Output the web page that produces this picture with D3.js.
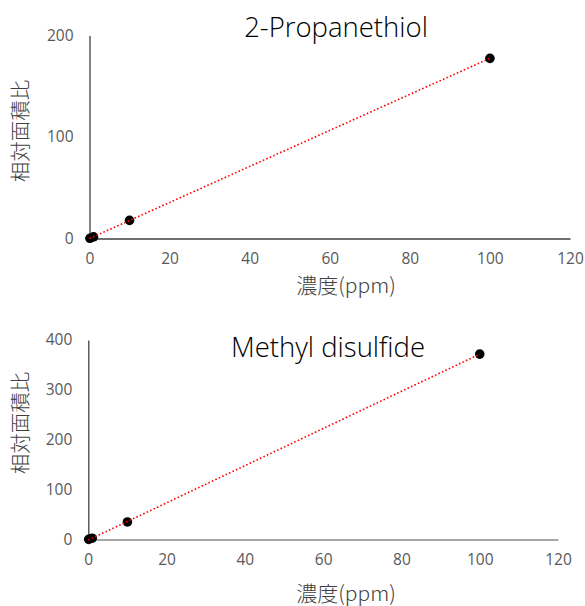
<!DOCTYPE html>
<html><head><meta charset="utf-8">
<script src="https://cdn.jsdelivr.net/npm/d3@7"></script>
<style>body{margin:0;background:#fff}</style>
</head><body>
<svg id="c" width="585" height="606"></svg>
<script>
const xTicks = [0, 20, 40, 60, 80, 100, 120];
const titles = ["2-Propanethiol", "Methyl disulfide"];
const xTitle = "濃度(ppm)";
const yTitle = "相対面積比";
const conc1 = [0.1, 1, 10, 100];
const area1 = [0.2, 1.6, 17.9, 177.5];
const yTicks1 = [0, 100, 200];
const conc2 = [0.1, 1, 10, 100];
const area2 = [0.3, 2.6, 35.2, 371.7];
const yTicks2 = [0, 100, 200, 300, 400];

const svg = d3.select("#c");
const FONT = "'Open Sans','Noto Sans CJK JP',sans-serif";
const CJK = "'Noto Sans CJK JP','Open Sans',sans-serif";

function fit(xs, ys){
  const n = xs.length, mx = d3.mean(xs), my = d3.mean(ys);
  let sxy=0, sxx=0;
  for(let i=0;i<n;i++){sxy+=(xs[i]-mx)*(ys[i]-my); sxx+=(xs[i]-mx)**2;}
  const b = sxy/sxx; return {b, a: my-b*mx};
}

function chart(cfg){
  const g = svg.append("g");
  const x = d3.scaleLinear().domain([0,120]).range(cfg.xr);
  const y = d3.scaleLinear().domain([0,cfg.ymax]).range(cfg.yr);
  const ya = g.append("g").attr("transform",`translate(${cfg.xr[0]},0)`)
    .call(d3.axisLeft(y).tickValues(cfg.yTicks).tickSize(0).tickPadding(16));
  ya.select(".domain").attr("stroke",cfg.yc).attr("stroke-width",1.3);
  ya.selectAll("text").attr("font-family",FONT).attr("font-size",15.5).attr("fill","#595959");
  const xa = g.append("g").attr("transform",`translate(0,${cfg.yr[0]})`)
    .call(d3.axisBottom(x).tickValues(xTicks).tickSize(0).tickPadding(14));
  xa.select(".domain").attr("stroke",cfg.xc).attr("stroke-width",1.3);
  xa.selectAll("text").attr("font-family",FONT).attr("font-size",15.5).attr("fill","#595959");
  const data = cfg.xs.map((v,i)=>({c:v,a:cfg.ys[i]}));
  g.selectAll("circle").data(data).enter().append("circle")
    .attr("cx",d=>x(d.c)).attr("cy",d=>y(d.a)).attr("r",4.8).attr("fill","#000");
  const f = fit(cfg.xs, cfg.ys);
  const ends = [0, d3.max(cfg.xs)];
  g.append("path").datum(ends)
    .attr("d", d3.line().x(d=>x(d)).y(d=>y(f.a+f.b*d)))
    .attr("stroke","#ff0000").attr("stroke-width",1.6).attr("stroke-dasharray","1.6,2.2").attr("fill","none");
  g.append("text").attr("x",cfg.tx).attr("y",cfg.ty).attr("text-anchor","middle")
    .attr("font-family",FONT).attr("font-weight",300).attr("font-size",27.5).attr("fill","#000").text(cfg.title);
  g.append("text").attr("x",346).attr("y",cfg.xty).attr("text-anchor","middle")
    .attr("font-family",CJK).attr("font-weight",300).attr("font-size",21).attr("fill","#404040").text(xTitle);
  g.append("text").attr("transform",`translate(28,${cfg.yty}) rotate(-90)`).attr("text-anchor","middle")
    .attr("font-family",CJK).attr("font-weight",300).attr("font-size",20.5).attr("fill","#404040").text(yTitle);
}

chart({xr:[89.5,570], yr:[238.5,35.5], ymax:200, yTicks:yTicks1, xs:conc1, ys:area1,
  yc:"#404040", xc:"#404040", title:titles[0], tx:336, ty:37, xty:293, yty:131});
chart({xr:[88.3,558], yr:[539.5,340], ymax:400, yTicks:yTicks2, xs:conc2, ys:area2,
  yc:"#404040", xc:"#8a8a8a", title:titles[1], tx:328, ty:357, xty:601, yty:423});
</script>
</body></html>
